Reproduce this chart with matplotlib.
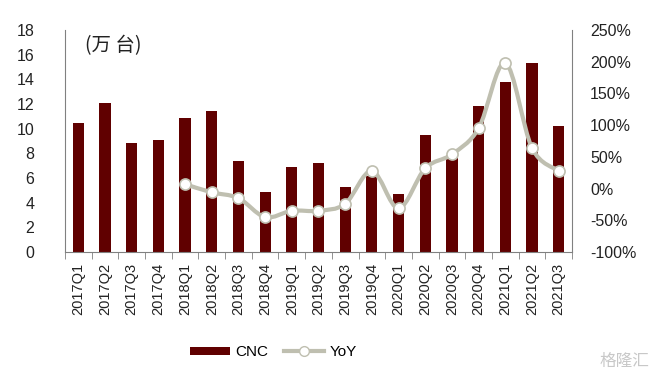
import matplotlib.pyplot as plt
from matplotlib.path import Path
from matplotlib.patches import PathPatch
from matplotlib.lines import Line2D
from matplotlib.patches import Patch
import numpy as np

plt.rcParams['font.family'] = ['Liberation Sans', 'Noto Sans CJK SC', 'DejaVu Sans']

quarters = ['2017Q1', '2017Q2', '2017Q3', '2017Q4', '2018Q1', '2018Q2', '2018Q3', '2018Q4',
            '2019Q1', '2019Q2', '2019Q3', '2019Q4', '2020Q1', '2020Q2', '2020Q3', '2020Q4',
            '2021Q1', '2021Q2', '2021Q3']
cnc = [10.5, 12.1, 8.8, 9.05, 10.9, 11.4, 7.35, 4.9, 6.9, 7.2, 5.3, 6.15, 4.7, 9.45, 7.9,
       11.8, 13.75, 15.35, 10.25]
yoy_quarters = quarters[4:]
yoy = [7, -6, -15, -45, -35, -35, -24, 28, -31, 32, 54, 95, 198, 64, 28]

bar_color = '#600000'
line_color = '#bfbfb0'

fig = plt.figure(figsize=(6.59, 3.78), dpi=100)
ax = fig.add_axes([0.0986, 0.3333, 0.7694, 0.5873])
ax2 = ax.twinx()

x = np.arange(len(quarters))
ax.bar(x, cnc, width=0.42, color=bar_color, zorder=2)
ax.set_xlim(-0.5, len(quarters) - 0.5)
ax.set_ylim(0, 18)
ax.set_yticks(range(0, 19, 2))

# smooth YoY curve (Catmull-Rom through the points, drawn as bezier path)
xs = x[4:].astype(float)
ys = np.array(yoy, dtype=float)
verts = [(xs[0], ys[0])]
codes = [Path.MOVETO]
n = len(xs)
for i in range(n - 1):
    p0 = (xs[max(i - 1, 0)], ys[max(i - 1, 0)])
    p1 = (xs[i], ys[i])
    p2 = (xs[i + 1], ys[i + 1])
    p3 = (xs[min(i + 2, n - 1)], ys[min(i + 2, n - 1)])
    c1 = (p1[0] + (p2[0] - p0[0]) / 6, p1[1] + (p2[1] - p0[1]) / 6)
    c2 = (p2[0] - (p3[0] - p1[0]) / 6, p2[1] - (p3[1] - p1[1]) / 6)
    verts += [c1, c2, p2]
    codes += [Path.CURVE4] * 3
ax2.add_patch(PathPatch(Path(verts, codes), facecolor='none', edgecolor=line_color,
                        lw=3, zorder=3))
ax2.plot(xs, ys, ls='none', marker='o', ms=8, mfc='white', mec=line_color, mew=1.2, zorder=4)
ax2.set_ylim(-100, 250)
ax2.set_yticks(range(-100, 251, 50))
ax2.set_yticklabels([f'{v}%' for v in range(-100, 251, 50)])

for a in (ax, ax2):
    a.spines['top'].set_visible(False)
    for s in ('left', 'right', 'bottom'):
        a.spines[s].set_color('#808080')
ax.spines['right'].set_visible(False)
ax2.spines['left'].set_visible(False)
ax2.spines['bottom'].set_visible(False)

ax.tick_params(axis='y', length=0, pad=22, labelsize=11.5, colors='#222222')
ax2.tick_params(axis='y', length=0, pad=13, labelsize=11.5, colors='#222222')
ax.set_xticks(x)
ax.set_xticklabels(quarters, rotation=90, fontsize=10.5, color='#222222')
ax.set_xticks(np.arange(-0.5, len(quarters), 1), minor=True)
ax.tick_params(axis='x', which='major', length=0, pad=8)
ax.tick_params(axis='x', which='minor', length=5, color='#808080')

ax.text(0.04, 0.975, '(万 台)', transform=ax.transAxes, fontsize=14, va='top', ha='left',
        family=['Noto Sans CJK SC', 'DejaVu Sans'], color='#222222')

handles = [Patch(facecolor=bar_color),
           Line2D([], [], color=line_color, lw=3, marker='o', ms=7, mfc='white', mec=line_color)]
fig.legend(handles, ['CNC', 'YoY'], loc='center', bbox_to_anchor=(0.415, 0.068), ncol=2,
           frameon=False, fontsize=11, handlelength=2.6, handleheight=0.5,
           handletextpad=0.4, columnspacing=1.0)

fig.text(0.985, 0.045, '格隆汇', fontsize=12, color='#c8c8c8', ha='right', va='center',
         family=['Noto Sans CJK SC', 'DejaVu Sans'])

fig.savefig('out.png', dpi=100)
